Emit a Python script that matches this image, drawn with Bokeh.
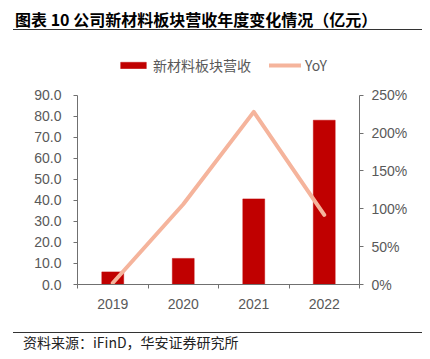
from bokeh.plotting import figure
from bokeh.models import (Range1d, LinearAxis, FixedTicker, PrintfTickFormatter,
                          Legend, LegendItem, Div, ColumnDataSource)
from bokeh.layouts import column
from bokeh.embed import file_html
from bokeh.resources import INLINE

years = ["2019", "2020", "2021", "2022"]
revenue = [6.0, 12.4, 40.7, 78.1]      # 亿元
yoy = [2.0, 106.0, 228.0, 92.0]        # %
left_ticks = [0, 10, 20, 30, 40, 50, 60, 70, 80, 90]
right_ticks = [0, 50, 100, 150, 200, 250]

title_text = "图表 10 公司新材料板块营收年度变化情况（亿元）"
source_text = "资料来源：iFinD，华安证券研究所"
bar_name = "新材料板块营收"
line_name = "YoY"

BAR = "#C00000"
LINE = "#F5B49C"
AXIS = "#707070"
LAB = "#595959"
FONT = "Liberation Sans"
CJK = "Noto Sans CJK SC"

# frame extends above the axes' top so the legend sits inside it
AXIS_PX = 189.3          # pixel height of the 0..90 axis span
FRAME_PX = 239           # frame height
left_max, right_max = left_ticks[-1], right_ticks[-1]

idx = list(range(len(years)))
src = ColumnDataSource(dict(x=idx, rev=revenue, yoy=yoy))

p = figure(width=414, height=294, output_backend="svg", toolbar_location=None,
           x_range=Range1d(-0.5, len(years) - 0.5),
           y_range=Range1d(0, left_max * FRAME_PX / AXIS_PX),
           min_border_left=69, min_border_right=63, min_border_top=14,
           min_border_bottom=41, margin=0)
p.extra_y_ranges = {"yoy": Range1d(0, right_max * FRAME_PX / AXIS_PX)}
p.outline_line_color = None
p.xgrid.visible = False
p.ygrid.visible = False
p.background_fill_color = "white"
p.border_fill_color = "white"

bars = p.vbar(x="x", top="rev", width=0.31, source=src, fill_color=BAR,
              line_color=BAR, line_width=0.5)
line = p.line(x="x", y="yoy", source=src, y_range_name="yoy", line_color=LINE,
              line_width=4, line_cap="round", line_join="round")

# x axis
xa = p.xaxis[0]
xa.ticker = FixedTicker(ticks=idx, minor_ticks=[i - 0.5 for i in range(len(years) + 1)])
xa.major_label_overrides = {i: y for i, y in zip(idx, years)}
xa.major_tick_out = 0
xa.major_tick_in = 0
xa.minor_tick_out = 4
xa.minor_tick_in = 0
xa.minor_tick_line_color = AXIS
xa.axis_line_color = AXIS
xa.major_label_standoff = 10
xa.major_label_text_font = FONT
xa.major_label_text_font_size = "14px"
xa.major_label_text_color = LAB

# left y axis
ya = p.yaxis[0]
ya.ticker = FixedTicker(ticks=left_ticks, minor_ticks=[])
ya.formatter = PrintfTickFormatter(format="%.1f")
ya.bounds = (0, left_max)
ya.major_tick_out = 4
ya.major_tick_in = 0
ya.minor_tick_out = 0
ya.minor_tick_in = 0
ya.axis_line_color = AXIS
ya.major_tick_line_color = AXIS
ya.major_label_standoff = 12
ya.major_label_text_font = FONT
ya.major_label_text_font_size = "14px"
ya.major_label_text_color = LAB

# right y axis
ra = LinearAxis(y_range_name="yoy")
ra.ticker = FixedTicker(ticks=right_ticks, minor_ticks=[])
ra.formatter = PrintfTickFormatter(format="%d%%")
ra.bounds = (0, right_max)
ra.major_tick_out = 4
ra.major_tick_in = 0
ra.minor_tick_out = 0
ra.minor_tick_in = 0
ra.axis_line_color = AXIS
ra.major_tick_line_color = AXIS
ra.major_label_standoff = 8
ra.major_label_text_font = FONT
ra.major_label_text_font_size = "14px"
ra.major_label_text_color = LAB
p.add_layout(ra, "right")

legend = Legend(items=[LegendItem(label=bar_name, renderers=[bars]),
                       LegendItem(label=line_name, renderers=[line])],
                orientation="horizontal", location=(40, 209),
                glyph_width=32, glyph_height=8, label_standoff=4, spacing=18,
                padding=0, margin=0, border_line_color=None,
                background_fill_alpha=0, label_text_font=CJK,
                label_text_font_size="14px", label_text_color=LAB,
                label_height=16)
p.add_layout(legend, "center")

title = Div(text=('<div style="width:409px;margin-left:5px;border-bottom:1px solid #333;'
                  'font-family:\'Noto Sans CJK SC\';font-weight:bold;font-size:16px;'
                  'line-height:22px;height:22px;padding-left:2px;color:#000;white-space:nowrap;">'
                  + title_text + '</div>'),
            width=414, height=23, margin=0)
source = Div(text=('<div style="width:409px;margin-left:5px;margin-top:7px;border-top:1px solid #333;'
                   'font-family:\'Noto Sans CJK SC\';font-size:14px;line-height:18px;'
                   'padding-left:10px;color:#222;white-space:nowrap;">'
                   + source_text + '</div>'),
             width=414, height=26, margin=0)

layout = column(title, p, source, spacing=0, margin=(8, 0, 0, 8))
open("out.html", "w").write(file_html(layout, INLINE))
